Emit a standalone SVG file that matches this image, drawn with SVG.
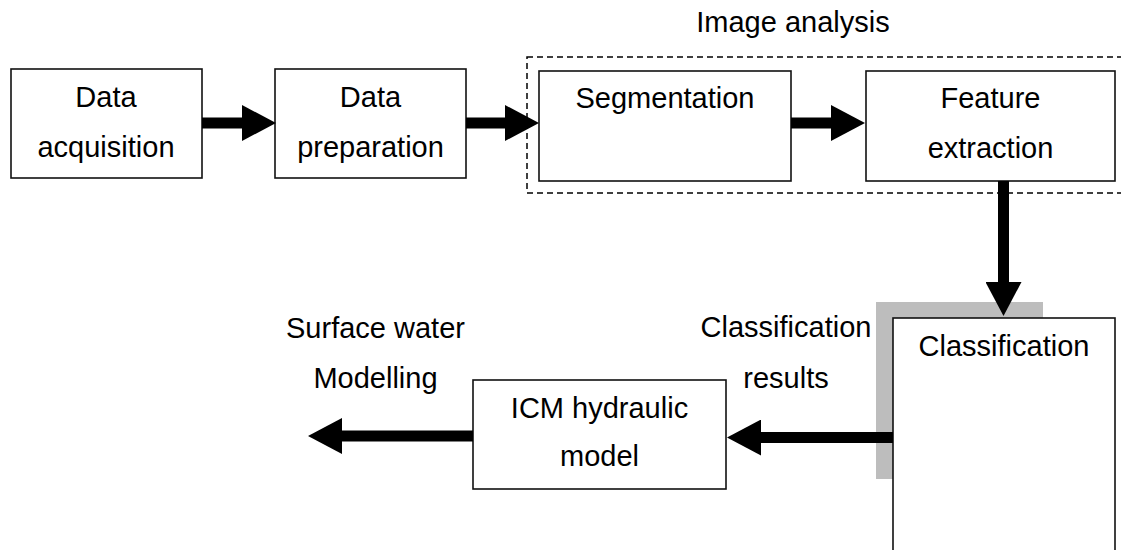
<svg xmlns="http://www.w3.org/2000/svg" width="1121" height="550" viewBox="0 0 1121 550">
<style>
.box{fill:#fff;stroke:#111;stroke-width:1.6}
.t{font-family:"Liberation Sans",Arial,sans-serif;font-size:29px;fill:#000;text-anchor:middle}
.sh{stroke:#000;stroke-width:11;fill:none}
</style>
<defs>
<marker id="ah" markerUnits="userSpaceOnUse" viewBox="0 0 34 36" markerWidth="34" markerHeight="36" refX="0" refY="18" orient="auto">
<polygon points="0,0 34,18 0,36" fill="#000"/>
</marker>
</defs>
<rect width="1121" height="550" fill="#fff"/>
<g id="image-analysis">
<rect x="527" y="57" width="610" height="136" fill="none" stroke="#000" stroke-width="1.5" stroke-dasharray="6,4"/>
<text class="t" x="793" y="32">Image analysis</text>
</g>
<g id="data-acquisition">
<rect class="box" x="11" y="69" width="191" height="109"/>
<text class="t" x="106" y="107">Data</text>
<text class="t" x="106" y="157">acquisition</text>
</g>
<g id="data-preparation">
<rect class="box" x="275" y="69" width="191" height="109"/>
<text class="t" x="370.5" y="107">Data</text>
<text class="t" x="370.5" y="157">preparation</text>
</g>
<g id="segmentation">
<rect class="box" x="539" y="71" width="252" height="110"/>
<text class="t" x="665" y="108">Segmentation</text>
</g>
<g id="feature-extraction">
<rect class="box" x="866" y="71" width="249" height="110"/>
<text class="t" x="990.5" y="108">Feature</text>
<text class="t" x="990.5" y="158">extraction</text>
</g>
<g id="classification">
<rect x="876" y="302" width="167" height="177" fill="#bdbdbd"/>
<rect class="box" x="893" y="318" width="222" height="250"/>
<text class="t" x="1004" y="356">Classification</text>
</g>
<g id="icm-model">
<rect class="box" x="473" y="380" width="253" height="109"/>
<text class="t" x="599.5" y="418">ICM hydraulic</text>
<text class="t" x="599.5" y="466">model</text>
</g>
<g id="labels">
<text class="t" x="786" y="337">Classification</text>
<text class="t" x="786" y="388">results</text>
<text class="t" x="375.5" y="338">Surface water</text>
<text class="t" x="375.5" y="388">Modelling</text>
</g>
<g id="connectors">
<line class="sh" x1="202" y1="123" x2="242" y2="123" marker-end="url(#ah)"/>
<line class="sh" x1="466" y1="123" x2="505" y2="123" marker-end="url(#ah)"/>
<line class="sh" x1="791" y1="123" x2="831" y2="123" marker-end="url(#ah)"/>
<line class="sh" x1="1003.5" y1="181" x2="1003.5" y2="282" marker-end="url(#ah)"/>
<line class="sh" x1="893" y1="437.5" x2="761" y2="437.5" marker-end="url(#ah)"/>
<line class="sh" x1="473" y1="436" x2="342" y2="436" marker-end="url(#ah)"/>
</g>
</svg>
